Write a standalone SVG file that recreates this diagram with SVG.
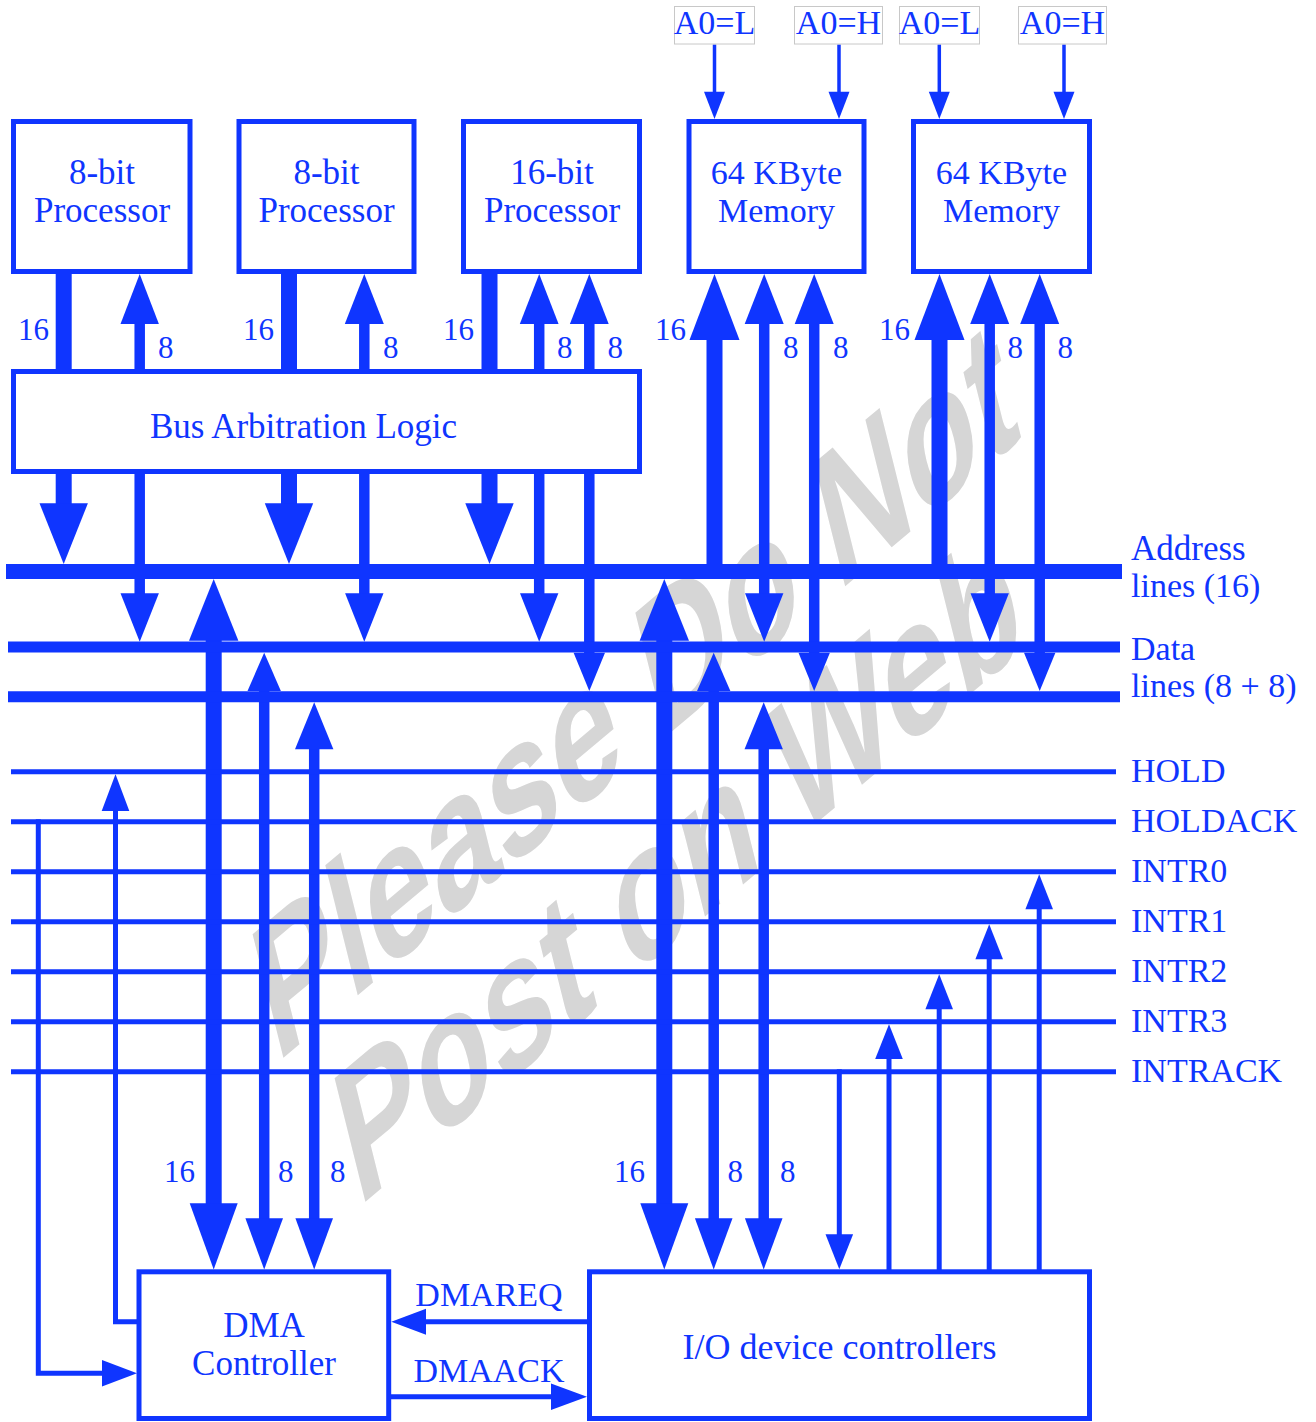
<svg xmlns="http://www.w3.org/2000/svg" width="1316" height="1422" viewBox="0 0 1316 1422">
<style>
.box{fill:#fff;stroke:#0f35ff;stroke-width:5}
.lbl{fill:#fff;stroke:#c8c8c8;stroke-width:1}
.t{font-family:"Liberation Serif","Times New Roman",serif;font-size:34px;fill:#0f35ff}
.b35{font-size:35px}
.b36{font-size:36px}
.m{text-anchor:middle}
.n{font-family:"Liberation Serif","Times New Roman",serif;font-size:31px;fill:#0f35ff}
.s{stroke:#0f35ff;fill:none}
.k16{stroke-width:16}
.k15{stroke-width:15}
.k11{stroke-width:11}
.k10{stroke-width:10.5}
.k5{stroke-width:5}
.k4{stroke-width:3.5}
.h{fill:#0f35ff}
.wm{font-family:"Liberation Sans",Arial,sans-serif;font-weight:bold;font-size:100px;fill:#d6d6d6}
</style>
<rect width="1316" height="1422" fill="#fff"/>
<g id="watermark">
<text class="wm" transform="matrix(1.1107,-0.9324,0.4477,1.7945,276,1064)">Please Do Not</text>
<text class="wm" transform="matrix(1.1107,-0.9324,0.4477,1.7945,358,1208)">Post on Web</text>
</g>
<g id="connectors">
<line class="s k16" x1="63.7" y1="271" x2="63.7" y2="504"/>
<line class="s k10" x1="139.7" y1="323" x2="139.7" y2="594"/>
<line class="s k16" x1="289" y1="271" x2="289" y2="504"/>
<line class="s k10" x1="364.3" y1="323" x2="364.3" y2="594"/>
<line class="s k16" x1="489.5" y1="271" x2="489.5" y2="504"/>
<line class="s k10" x1="539.2" y1="323" x2="539.2" y2="594"/>
<line class="s k10" x1="589.3" y1="323" x2="589.3" y2="653"/>
<line class="s k16" x1="714.5" y1="339" x2="714.5" y2="571"/>
<line class="s k10" x1="764.2" y1="323" x2="764.2" y2="594"/>
<line class="s k10" x1="814.2" y1="323" x2="814.2" y2="653"/>
<line class="s k16" x1="939.5" y1="339" x2="939.5" y2="571"/>
<line class="s k10" x1="989.7" y1="323" x2="989.7" y2="594"/>
<line class="s k10" x1="1039.7" y1="323" x2="1039.7" y2="653"/>
<polygon class="h" points="120.5,324 158.9,324 139.7,274"/>
<polygon class="h" points="344.8,324 383.8,324 364.3,274"/>
<polygon class="h" points="519.8,324 558.6,324 539.2,274"/>
<polygon class="h" points="569.9,324 608.7,324 589.3,274"/>
<polygon class="h" points="689.5,340 739.5,340 714.5,274"/>
<polygon class="h" points="744.7,324 783.7,324 764.2,274"/>
<polygon class="h" points="794.7,324 833.7,324 814.2,274"/>
<polygon class="h" points="914.5,340 964.5,340 939.5,274"/>
<polygon class="h" points="970.2,324 1009.2,324 989.7,274"/>
<polygon class="h" points="1020.2,324 1059.2,324 1039.7,274"/>
<polygon class="h" points="39.5,503.3 87.9,503.3 63.7,564"/>
<polygon class="h" points="264.8,503.3 313.2,503.3 289,564"/>
<polygon class="h" points="465.3,503.3 513.7,503.3 489.5,564"/>
<polygon class="h" points="120.5,593.3 158.9,593.3 139.7,641.7"/>
<polygon class="h" points="345.1,593.3 383.5,593.3 364.3,641.7"/>
<polygon class="h" points="520,593.3 558.4,593.3 539.2,641.7"/>
<polygon class="h" points="745,593.3 783.4,593.3 764.2,641.7"/>
<polygon class="h" points="970.5,593.3 1008.9,593.3 989.7,641.7"/>
<polygon class="h" points="573.6,652.7 605,652.7 589.3,691"/>
<polygon class="h" points="798.5,652.7 829.9,652.7 814.2,691"/>
<polygon class="h" points="1024,652.7 1055.4,652.7 1039.7,691"/>
<line class="s k16" x1="213.7" y1="640" x2="213.7" y2="1204"/>
<line class="s k10" x1="264.2" y1="690" x2="264.2" y2="1219"/>
<line class="s k10" x1="314.2" y1="749" x2="314.2" y2="1219"/>
<line class="s k16" x1="664.3" y1="640" x2="664.3" y2="1204"/>
<line class="s k10" x1="713.7" y1="690" x2="713.7" y2="1219"/>
<line class="s k10" x1="763.7" y1="749" x2="763.7" y2="1219"/>
<polygon class="h" points="189,640.7 238.4,640.7 213.7,579"/>
<polygon class="h" points="247.5,691 280.9,691 264.2,652.7"/>
<polygon class="h" points="295,749.3 333.4,749.3 314.2,702.3"/>
<polygon class="h" points="639.6,640.7 689,640.7 664.3,579"/>
<polygon class="h" points="697,691 730.4,691 713.7,652.7"/>
<polygon class="h" points="744.5,749.3 782.9,749.3 763.7,702.3"/>
<polygon class="h" points="189.7,1203.3 237.7,1203.3 213.7,1269.5"/>
<polygon class="h" points="245.4,1218.3 283,1218.3 264.2,1269.5"/>
<polygon class="h" points="295.4,1218.3 333,1218.3 314.2,1269.5"/>
<polygon class="h" points="640.3,1203.3 688.3,1203.3 664.3,1269.5"/>
<polygon class="h" points="694.9,1218.3 732.5,1218.3 713.7,1269.5"/>
<polygon class="h" points="744.9,1218.3 782.5,1218.3 763.7,1269.5"/>
<line class="s k4" x1="714.5" y1="44.5" x2="714.5" y2="92"/>
<line class="s k4" x1="839" y1="44.5" x2="839" y2="92"/>
<line class="s k4" x1="939.3" y1="44.5" x2="939.3" y2="92"/>
<line class="s k4" x1="1064" y1="44.5" x2="1064" y2="92"/>
<polygon class="h" points="704,91.7 725,91.7 714.5,119"/>
<polygon class="h" points="828.5,91.7 849.5,91.7 839,119"/>
<polygon class="h" points="928.8,91.7 949.8,91.7 939.3,119"/>
<polygon class="h" points="1053.5,91.7 1074.5,91.7 1064,119"/>
<path class="s k5" d="M139 1321.7 H115.5 V810"/>
<polygon class="h" points="101.7,811 129.3,811 115.5,774.3"/>
<path class="s k5" d="M38.3 819.3 V1373.3 H103"/>
<polygon class="h" points="102,1360 102,1386.6 137,1373.3"/>
<line class="s k5" x1="588" y1="1321.7" x2="425" y2="1321.7"/>
<polygon class="h" points="426,1308.7 426,1334.7 391.3,1321.7"/>
<line class="s k5" x1="391" y1="1396.7" x2="552" y2="1396.7"/>
<polygon class="h" points="551,1383.4 551,1410 587,1396.7"/>
<line class="s k5" x1="839.3" y1="1069.3" x2="839.3" y2="1235"/>
<polygon class="h" points="825.5,1234.3 853.1,1234.3 839.3,1269.3"/>
<line class="s k5" x1="889" y1="1270" x2="889" y2="1058"/>
<polygon class="h" points="875.2,1059 902.8,1059 889,1024.3"/>
<line class="s k5" x1="939.2" y1="1270" x2="939.2" y2="1008"/>
<polygon class="h" points="925.4,1009.3 953,1009.3 939.2,974.3"/>
<line class="s k5" x1="989.2" y1="1270" x2="989.2" y2="958"/>
<polygon class="h" points="975.4,959.3 1003,959.3 989.2,924.3"/>
<line class="s k5" x1="1039.2" y1="1270" x2="1039.2" y2="908"/>
<polygon class="h" points="1025.4,909.3 1053,909.3 1039.2,874.3"/>
</g>
<g id="address-bus">
<line class="s k15" x1="6" y1="571.5" x2="1122" y2="571.5"/>
<text class="t b35" x="1131" y="560">Address</text>
<text class="t" x="1131" y="597">lines (16)</text>
</g>
<g id="data-bus">
<line class="s k11" x1="8" y1="647" x2="1120" y2="647"/>
<line class="s k11" x1="8" y1="696.7" x2="1120" y2="696.7"/>
<text class="t" x="1131" y="660">Data</text>
<text class="t" x="1131" y="697">lines (8 + 8)</text>
</g>
<g id="control-lines">
<line class="s k5" x1="11" y1="771.8" x2="1116" y2="771.8"/>
<line class="s k5" x1="11" y1="821.8" x2="1116" y2="821.8"/>
<line class="s k5" x1="11" y1="871.8" x2="1116" y2="871.8"/>
<line class="s k5" x1="11" y1="921.8" x2="1116" y2="921.8"/>
<line class="s k5" x1="11" y1="971.8" x2="1116" y2="971.8"/>
<line class="s k5" x1="11" y1="1021.8" x2="1116" y2="1021.8"/>
<line class="s k5" x1="11" y1="1071.8" x2="1116" y2="1071.8"/>
<text class="t" x="1131" y="782">HOLD</text>
<text class="t" x="1131" y="832">HOLDACK</text>
<text class="t" x="1131" y="882">INTR0</text>
<text class="t" x="1131" y="932">INTR1</text>
<text class="t" x="1131" y="982">INTR2</text>
<text class="t" x="1131" y="1032">INTR3</text>
<text class="t" x="1131" y="1082">INTRACK</text>
</g>
<g id="width-labels">
<text class="n" x="18" y="340">16</text>
<text class="n" x="158" y="358">8</text>
<text class="n" x="243" y="340">16</text>
<text class="n" x="383" y="358">8</text>
<text class="n" x="443" y="340">16</text>
<text class="n" x="557" y="358">8</text>
<text class="n" x="607.5" y="358">8</text>
<text class="n" x="655" y="340">16</text>
<text class="n" x="783" y="358">8</text>
<text class="n" x="833" y="358">8</text>
<text class="n" x="879" y="340">16</text>
<text class="n" x="1007.5" y="358">8</text>
<text class="n" x="1057.5" y="358">8</text>
<text class="n" x="164" y="1182">16</text>
<text class="n" x="278" y="1182">8</text>
<text class="n" x="330" y="1182">8</text>
<text class="n" x="614" y="1182">16</text>
<text class="n" x="727.5" y="1182">8</text>
<text class="n" x="780" y="1182">8</text>
<text class="t m" x="489" y="1306">DMAREQ</text>
<text class="t m" x="489" y="1382">DMAACK</text>
</g>
<g id="a0-labels">
<rect class="lbl" x="674.5" y="6.5" width="80" height="37.5"/>
<text class="t m" x="714.5" y="33.5">A0=L</text>
<rect class="lbl" x="794.5" y="6.5" width="88" height="37.5"/>
<text class="t m" x="838.5" y="33.5">A0=H</text>
<rect class="lbl" x="899.5" y="6.5" width="80" height="37.5"/>
<text class="t m" x="939.5" y="33.5">A0=L</text>
<rect class="lbl" x="1018.5" y="6.5" width="88" height="37.5"/>
<text class="t m" x="1062.5" y="33.5">A0=H</text>
</g>
<g id="proc1">
<rect class="box" x="13.5" y="121.5" width="176.5" height="150"/>
<text class="t b35 m" x="102" y="184">8-bit</text>
<text class="t b35 m" x="102" y="222">Processor</text>
</g>
<g id="proc2">
<rect class="box" x="239" y="121.5" width="175" height="150"/>
<text class="t b35 m" x="326.5" y="184">8-bit</text>
<text class="t b35 m" x="326.5" y="222">Processor</text>
</g>
<g id="proc3">
<rect class="box" x="463.5" y="121.5" width="176" height="150"/>
<text class="t b35 m" x="552" y="184">16-bit</text>
<text class="t b35 m" x="552" y="222">Processor</text>
</g>
<g id="mem1">
<rect class="box" x="689" y="121.5" width="175" height="150"/>
<text class="t m" x="776.5" y="184">64 KByte</text>
<text class="t m" x="776.5" y="222">Memory</text>
</g>
<g id="mem2">
<rect class="box" x="913.5" y="121.5" width="176" height="150"/>
<text class="t m" x="1001.5" y="184">64 KByte</text>
<text class="t m" x="1001.5" y="222">Memory</text>
</g>
<g id="bus-arbitration">
<rect class="box" x="13.5" y="371.5" width="626" height="100"/>
<text class="t b35 m" x="303.5" y="437.5">Bus Arbitration Logic</text>
</g>
<g id="dma">
<rect class="box" x="139" y="1271.8" width="249.7" height="146.7"/>
<text class="t b35 m" x="264" y="1337">DMA</text>
<text class="t b35 m" x="264" y="1375">Controller</text>
</g>
<g id="io">
<rect class="box" x="589.5" y="1271.8" width="500" height="146.7"/>
<text class="t b36 m" x="839.5" y="1358.5">I/O device controllers</text>
</g>
</svg>
